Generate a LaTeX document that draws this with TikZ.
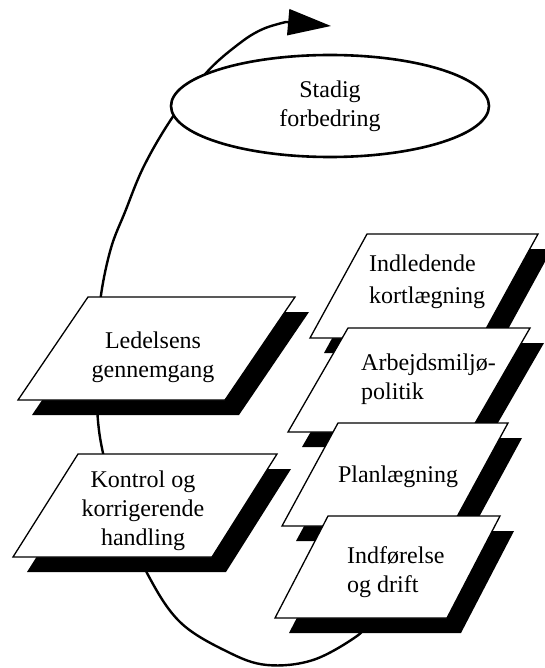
\documentclass[tikz,border=0pt]{standalone}
\usepackage{fontspec}
\setmainfont{Liberation Serif}
\usetikzlibrary{shapes.geometric,arrows.meta}

\tikzset{
  loopline/.style={line width=2.4pt, line cap=round, line join=round},
  boxline/.style={draw=black, fill=white, line width=1.3pt, line join=miter},
  shadowfill/.style={fill=black},
  label/.style={font=\fontsize{24}{29}\selectfont, inner sep=0pt},
  goalnode/.style={ellipse, draw, fill=white, line width=2.6pt,
    minimum width=318pt, minimum height=102pt, inner sep=0pt,
    align=center, font=\fontsize{24}{29}\selectfont},
}

% parallelogram card with a drop shadow: #1..#4 = corners TL, TR, BR, BL
\newcommand{\slantcard}[4]{%
  \fill[shadowfill, shift={(14,15)}] #1 -- #2 -- #3 -- #4 -- cycle;
  \path[boxline] #1 -- #2 -- #3 -- #4 -- cycle;
}

\begin{document}
\begin{tikzpicture}[x=1pt, y=-1pt]
\useasboundingbox (0,0) rectangle (545,668);

% the improvement loop (passes behind cards and the goal ellipse)
\coordinate (l0) at (370,620);
\coordinate (l1) at (357,636);
\coordinate (l2) at (313,660);
\coordinate (l3) at (267,665);
\coordinate (l4) at (228,652);
\coordinate (l5) at (180,622);
\coordinate (l6) at (147,573);
\coordinate (l7) at (120,510);
\coordinate (l8) at (103,453);
\coordinate (l9) at (97,405);
\coordinate (l10) at (98,340);
\coordinate (l11) at (101,295);
\coordinate (l12) at (111,248);
\coordinate (l13) at (125,212);
\coordinate (l14) at (144,166);
\coordinate (l15) at (172,118);
\coordinate (l16) at (207,72);
\coordinate (l17) at (240,43);
\coordinate (l18) at (263,29);
\coordinate (l19) at (286,22);
\coordinate (tip) at (331,26);

\draw[loopline, -{Triangle[length=43pt,width=26pt]}]
  plot[smooth, tension=0.6] coordinates {(l0) (l1) (l2) (l3) (l4) (l5) (l6) (l7) (l8) (l9) (l10) (l11) (l12) (l13) (l14) (l15) (l16) (l17) (l18) (l19)} -- (tip);

% goal
\node[goalnode] (goal) at (330,106) {Stadig\\forbedring};

% left column
\slantcard{(88,297)}{(295,297)}{(225,400)}{(18,400)}
\node[label, align=center] (review) at (153,357) {Ledelsens\\gennemgang};

\slantcard{(78,454)}{(277,454)}{(212,557)}{(13,557)}
\node[label, align=center] (check) at (143,511) {Kontrol og\\korrigerende\\handling};

% right column
\slantcard{(367,234)}{(538,234)}{(481,338)}{(310,338)}
\node[label, align=left, anchor=west, font=\fontsize{24}{32}\selectfont] (survey) at (369,282) {Indledende\\kortlægning};

\slantcard{(348,328)}{(530,328)}{(470,432)}{(288,432)}
\node[label, align=left, anchor=west] (policy) at (361,379) {Arbejdsmiljø-\\politik};

\slantcard{(338,423)}{(508,423)}{(452,526)}{(282,526)}
\node[label] (plan) at (398,477) {Planlægning};

\slantcard{(328,516)}{(500,516)}{(447,618)}{(275,618)}
\node[label, align=left, anchor=west] (run) at (347,572) {Indførelse\\og drift};

\end{tikzpicture}
\end{document}
